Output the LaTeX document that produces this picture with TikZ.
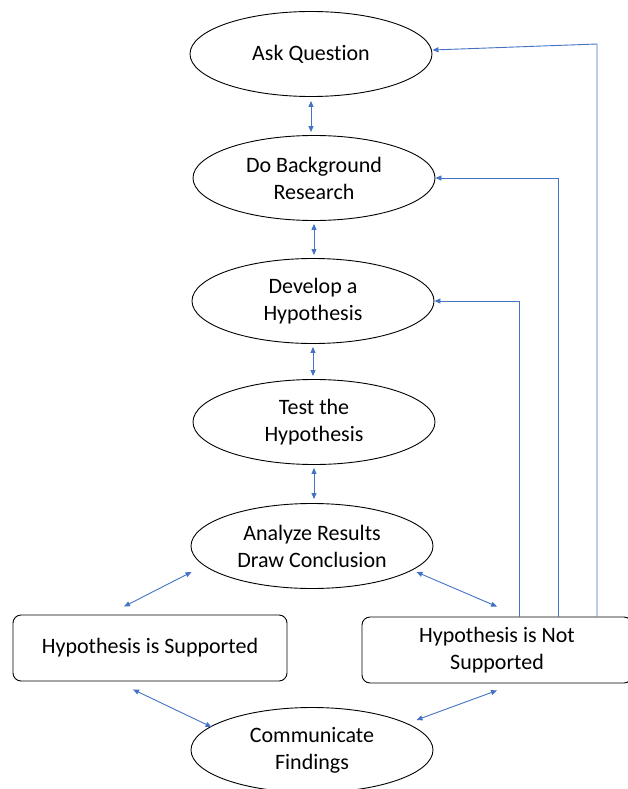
\documentclass[tikz,border=0pt]{standalone}
\usepackage{fontspec}
\setmainfont{Carlito}[Ligatures=CommonOff]
\usetikzlibrary{arrows.meta,shapes.geometric}
\definecolor{linkblue}{HTML}{4472C4}

\begin{document}
\begin{tikzpicture}[x=1pt,y=1pt,
		stage/.style={draw,ellipse,line width=0.9pt,minimum width=242pt,minimum height=85pt,inner sep=0pt,align=center,font=\fontsize{22}{27}\selectfont},
		outcome/.style={draw,rounded corners=8pt,line width=0.9pt,minimum width=274pt,minimum height=66pt,inner sep=0pt,align=center,font=\fontsize{22}{27}\selectfont},
		link/.style={{Triangle[length=6pt,width=5pt]}-{Triangle[length=6pt,width=5pt]},draw=linkblue,line width=0.9pt},
		back/.style={-{Triangle[length=6pt,width=5pt]},draw=linkblue,line width=0.9pt}]
				\useasboundingbox (0,0) rectangle (628,-789);
				\node[stage] (ask) at (311,-54) {Ask Question};
				\node[stage] (bg) at (314,-178) {Do Background\\Research};
				\node[stage] (dev) at (313,-301) {Develop a\\Hypothesis};
				\node[stage] (test) at (314,-422) {Test the\\Hypothesis};
				\node[stage] (analyze) at (312,-546) {Analyze Results\\Draw Conclusion};
				\node[outcome] (sup) at (150,-648) {Hypothesis is Supported};
				\node[outcome,minimum width=270pt] (notsup) at (497,-650) {Hypothesis is Not\\Supported};
				\node[stage] (comm) at (312,-750) {Communicate\\Findings};
				\draw[link,shorten <=4pt,shorten >=3pt] (ask.south) -- (ask.south |- bg.north);
				\draw[link,shorten <=3pt,shorten >=3pt] (bg.south) -- (bg.south |- dev.north);
				\draw[link,shorten <=3pt,shorten >=3pt] (dev.south) -- (dev.south |- test.north);
				\draw[link,shorten <=3pt,shorten >=4pt] (test.south) -- (test.south |- analyze.north);
				\draw[link] ([shift={(1,-26)}]analyze.west) -- ([shift={(-26,8)}]sup.north);
				\draw[link] ([shift={(-17,-26)}]analyze.east) -- ([shift={(0,10)}]notsup.north);
				\draw[link] ([shift={(-17,-8)}]sup.south) -- ([shift={(21,23)}]comm.west);
				\draw[link] ([shift={(0,-7)}]notsup.south) -- ([shift={(-17,30)}]comm.east);
				\draw[back] ([xshift=22pt]notsup.north) |- (dev.east);
				\draw[back] ([xshift=61pt]notsup.north) |- (bg.east);
				\coordinate (askturn) at (597,-44);
				\draw[back] ([xshift=100pt]notsup.north) -- (askturn) -- ([yshift=4pt]ask.east);
			\end{tikzpicture}
\end{document}
